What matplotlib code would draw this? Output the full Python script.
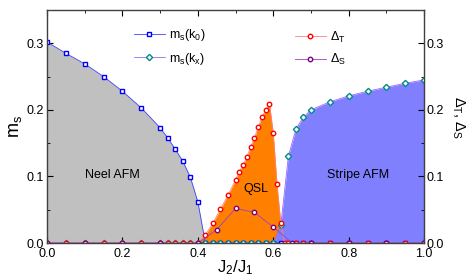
import matplotlib
matplotlib.use('Agg')
import matplotlib.pyplot as plt
from matplotlib.lines import Line2D

plt.rcParams['font.family'] = ['Liberation Sans', 'DejaVu Sans']
plt.rcParams['mathtext.fontset'] = 'custom'
plt.rcParams['mathtext.rm'] = 'Liberation Sans'
plt.rcParams['mathtext.default'] = 'regular'

# staggered magnetization data
j2_m = [0.0, 0.05, 0.1, 0.15, 0.2, 0.25, 0.3, 0.32, 0.34, 0.36, 0.38, 0.40,
        0.42, 0.44, 0.46, 0.48, 0.50, 0.52, 0.54, 0.56, 0.58, 0.60,
        0.62, 0.64, 0.66, 0.68, 0.70, 0.75, 0.80, 0.85, 0.90, 0.95, 1.0]
ms_k0 = [0.302, 0.285, 0.269, 0.250, 0.228, 0.203, 0.173, 0.158, 0.141, 0.123, 0.099, 0.062,
         0, 0, 0, 0, 0, 0, 0, 0, 0, 0,
         0, 0, 0, 0, 0, 0, 0, 0, 0, 0, 0]
ms_kx = [0, 0, 0, 0, 0, 0, 0, 0, 0, 0, 0, 0,
         0, 0, 0, 0, 0, 0, 0, 0, 0, 0,
         0.027, 0.130, 0.171, 0.189, 0.200, 0.212, 0.221, 0.228, 0.234, 0.240, 0.245]

# gaps
j2_t = [0.0, 0.05, 0.1, 0.15, 0.2, 0.25, 0.3, 0.32, 0.34, 0.36, 0.38, 0.40,
        0.42, 0.44, 0.46, 0.48, 0.50, 0.51, 0.52, 0.53, 0.54, 0.55, 0.56, 0.57,
        0.58, 0.59, 0.60, 0.61, 0.62, 0.63, 0.64, 0.66, 0.68, 0.70,
        0.75, 0.80, 0.85, 0.90, 0.95, 1.0]
delta_t = [0, 0, 0, 0, 0, 0, 0, 0, 0, 0, 0, 0,
           0.012, 0.030, 0.051, 0.072, 0.095, 0.107, 0.117, 0.129, 0.144, 0.158, 0.174, 0.189,
           0.200, 0.209, 0.165, 0.088, 0.030, 0, 0, 0, 0, 0,
           0, 0, 0, 0, 0, 0]
j2_s = [0.0, 0.1, 0.2, 0.3, 0.4, 0.45, 0.50, 0.55, 0.60, 0.65, 0.70, 0.80, 0.90, 1.0]
delta_s = [0, 0, 0, 0, 0, 0.020, 0.052, 0.046, 0.024, 0, 0, 0, 0, 0]

fig = plt.figure(figsize=(4.71, 2.77), dpi=100)
ax = fig.add_axes([0.0998, 0.1227, 0.8006, 0.8412])

ax.fill_between(j2_m, ms_k0, 0, color='#c0c0c0', lw=0)
ax.fill_between(j2_t, delta_t, 0, color='#ff8000', lw=0)
ax.fill_between(j2_m, ms_kx, 0, color='#8080ff', lw=0)

ms = 3.2
mw = 1.0
ax.plot(j2_m, ms_k0, color='#4040ff', lw=0.6, marker='s', ms=ms, mfc='white', mec='#0000ff', mew=mw)
ax.plot(j2_m, ms_kx, color='#9966ff', lw=0.6, marker='D', ms=ms, mfc='white', mec='#008b8b', mew=mw)
ax.plot(j2_t, delta_t, color='#ff8080', lw=0.6, marker='o', ms=ms, mfc='white', mec='#ff0000', mew=mw)
ax.plot(j2_s, delta_s, color='#a040c0', lw=0.6, marker='o', ms=ms, mfc='white', mec='#800080', mew=mw)

ax.set_xlim(0, 1.0)
ax.set_ylim(0, 0.35)
ax.set_xticks([0, 0.2, 0.4, 0.6, 0.8, 1.0])
ax.set_xticks([0.1, 0.3, 0.5, 0.7, 0.9], minor=True)
ax.set_yticks([0, 0.1, 0.2, 0.3])
ax.set_yticks([0.05, 0.15, 0.25], minor=True)
ax.tick_params(which='both', direction='in', top=True, right=True, labelsize=9, pad=2)
ax.tick_params(axis='x', pad=3.5)
ax.tick_params(which='major', length=4)
ax.tick_params(which='minor', length=2.5)
ax.tick_params(axis='y', labelright=True)
for s in ax.spines.values():
    s.set_color('#404040')
    s.set_linewidth(1)

ax.set_xlabel(r'J$_2$/J$_1$', fontsize=12, labelpad=-1)
ax.set_ylabel(r'm$_s$', fontsize=13, labelpad=2)
ax.text(1.09, 0.54, r'$\Delta_T$, $\Delta_S$', transform=ax.transAxes, rotation=270,
        fontsize=10.5, ha='center', va='center')

ax.text(0.173, 0.102, 'Neel AFM', fontsize=9, ha='center', va='center')
ax.text(0.555, 0.081, 'QSL', fontsize=9, ha='center', va='center')
ax.text(0.824, 0.102, 'Stripe AFM', fontsize=9, ha='center', va='center')

h1 = [Line2D([], [], color='#4040ff', lw=0.6, marker='s', ms=ms, mfc='white', mec='#0000ff', mew=mw),
      Line2D([], [], color='#9966ff', lw=0.6, marker='D', ms=ms, mfc='white', mec='#008b8b', mew=mw)]
leg1 = ax.legend(h1, [r'm$_s$(k$_0$)', r'm$_s$(k$_x$)'], loc='upper left', bbox_to_anchor=(0.20, 0.975),
                 frameon=False, fontsize=9, handlelength=2.5, labelspacing=0.6, handletextpad=0.3)
ax.add_artist(leg1)
h2 = [Line2D([], [], color='#ff8080', lw=0.6, marker='o', ms=ms, mfc='white', mec='#ff0000', mew=mw),
      Line2D([], [], color='#a040c0', lw=0.6, marker='o', ms=ms, mfc='white', mec='#800080', mew=mw)]
ax.legend(h2, [r'$\Delta_T$', r'$\Delta_S$'], loc='upper left', bbox_to_anchor=(0.627, 0.965),
          frameon=False, fontsize=9, handlelength=2.5, labelspacing=0.6, handletextpad=0.3)

fig.savefig('out.png', dpi=100)
